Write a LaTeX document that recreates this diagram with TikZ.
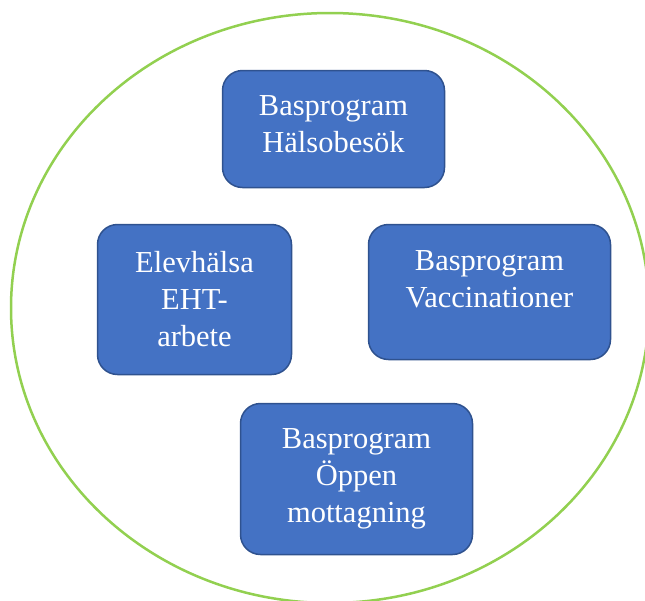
\documentclass[tikz,border=0pt]{standalone}
\usepackage{fontspec}
\setmainfont{Liberation Serif}
\usetikzlibrary{positioning}

\definecolor{boxblue}{HTML}{4472C4}
\definecolor{boxedge}{HTML}{2F528F}
\definecolor{ringgreen}{HTML}{92D050}

\tikzstyle{basbox} = [rectangle, rounded corners=20pt, align=center, text=white,
draw=boxedge, line width=1.5pt, fill=boxblue, font=\fontsize{30.5}{37}\selectfont]
\tikzstyle{ring} = [draw=ringgreen, line width=2.5pt]

\begin{document}
\begin{tikzpicture}[x=1pt, y=-1pt]
			\useasboundingbox (0,0) rectangle (645,600);
			\draw [ring] (330,308) ellipse [x radius=319pt, y radius=295pt];

			\node (halsobesok) [basbox, minimum width=222pt, minimum height=117pt, text depth=10pt] at (333.5,129) {Basprogram\\Hälsobesök};
			\node (elevhalsa) [basbox, minimum width=194pt, minimum height=150pt] at (194.5,299.5) {Elevhälsa\\EHT-\\arbete};
			\node (vaccinationer) [basbox, minimum width=242pt, minimum height=135pt, text depth=26pt] at (489.5,292) {Basprogram\\Vaccinationer};
			\node (mottagning) [basbox, minimum width=232pt, minimum height=151pt] at (356.5,479) {Basprogram\\Öppen\\mottagning};
		\end{tikzpicture}
\end{document}
